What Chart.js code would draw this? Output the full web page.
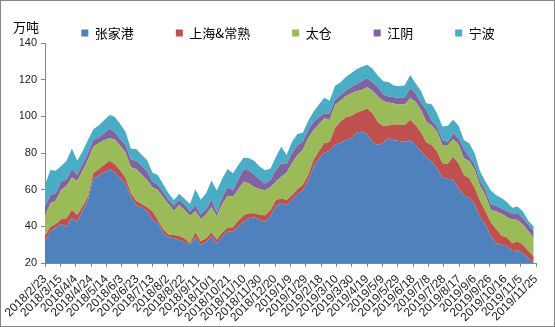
<!DOCTYPE html>
<html>
<head>
<meta charset="utf-8">
<script src="https://cdn.jsdelivr.net/npm/chart.js@4/dist/chart.umd.min.js"></script>
<style>
html, body { margin: 0; padding: 0; background: #fff; }
.chart_wrap { width: 555px; height: 327px; }
</style>
</head>
<body>
<div class="chart_wrap"><canvas id="chart_stock"></canvas></div>
<script>
// weekly stock, starting 2018/2/23 (x = days since start)
const firstDay = '2018/2/23';
const stepDays = 7;

const tickLabels = [
	'2018/2/23', '2018/3/15', '2018/4/4', '2018/4/24', '2018/5/14', '2018/6/3', '2018/6/23',
	'2018/7/13', '2018/8/2', '2018/8/22', '2018/9/11', '2018/10/1', '2018/10/21', '2018/11/10',
	'2018/11/30', '2018/12/20', '2019/1/9', '2019/1/29', '2019/2/18', '2019/3/10', '2019/3/30',
	'2019/4/19', '2019/5/9', '2019/5/29', '2019/6/18', '2019/7/8', '2019/7/28', '2019/8/17',
	'2019/9/6', '2019/9/26', '2019/10/16', '2019/11/5', '2019/11/25',
];

const seriesNames = ['张家港', '上海&常熟', '太仓', '江阴', '宁波'];

const zhangjiagang = [
	31.6, 37.1, 39.3, 41.3, 39.8, 44.4, 42.5, 48.5, 54.4, 66.2,
	67.6, 69.4, 71.1, 69.4, 66.3, 63.1, 56.0, 51.6, 50.2, 48.4,
	43.4, 42.0, 36.2, 34.0, 33.5, 32.5, 31.6, 29.8, 34.0, 30.0,
	31.5, 34.4, 30.6, 34.5, 37.0, 37.1, 39.8, 42.5, 44.4, 44.9,
	43.5, 42.5, 45.6, 51.1, 52.5, 51.6, 54.7, 57.6, 59.5, 64.9,
	72.5, 77.0, 80.0, 81.5, 84.4, 85.6, 87.0, 88.0, 91.0, 91.7,
	90.2, 85.9, 84.4, 85.7, 88.0, 87.0, 86.6, 86.2, 87.1, 84.4,
	81.1, 77.7, 75.5, 71.7, 66.6, 65.9, 65.5, 60.8, 56.8, 55.7,
	52.1, 45.1, 40.8, 34.8, 30.8, 29.9, 29.1, 26.6, 26.8, 25.3,
	22.6, 20.0,
];
const shanghaiChangshu = [
	3.1, 2.7, 2.0, 2.5, 4.6, 4.5, 3.7, 2.5, 1.8, 2.7,
	3.5, 4.0, 4.7, 4.6, 4.2, 3.4, 2.0, 2.4, 2.0, 2.0,
	4.8, 1.4, 2.2, 1.6, 1.8, 2.2, 1.8, 0.9, 2.8, 1.8,
	2.0, 2.2, 2.2, 2.2, 2.2, 2.4, 3.3, 3.6, 2.7, 2.2,
	2.7, 3.6, 3.3, 3.3, 2.7, 2.8, 2.4, 2.6, 3.0, 3.1,
	3.7, 4.0, 5.3, 4.5, 9.1, 11.4, 12.5, 12.2, 10.9, 11.3,
	13.9, 15.6, 12.4, 8.9, 7.0, 8.5, 8.9, 9.1, 11.0, 10.9,
	10.2, 8.0, 8.9, 9.1, 7.8, 8.3, 12.4, 13.6, 11.2, 10.5,
	9.0, 8.8, 7.6, 7.4, 7.8, 4.9, 4.8, 4.2, 4.9, 4.6,
	4.0, 3.5,
];
const taicang = [
	10.9, 12.7, 12.7, 16.0, 17.6, 17.8, 18.5, 19.3, 20.0, 14.5,
	14.2, 13.5, 12.2, 13.3, 13.5, 13.7, 14.2, 17.1, 16.0, 14.9,
	13.1, 16.4, 17.4, 16.4, 13.2, 16.9, 15.5, 14.9, 11.5, 12.0,
	12.8, 13.9, 12.5, 15.5, 17.5, 16.7, 17.1, 18.2, 16.3, 14.2,
	14.0, 13.6, 12.4, 10.0, 11.8, 14.9, 17.3, 18.7, 19.1, 20.0,
	16.3, 14.5, 13.6, 12.0, 12.7, 11.5, 11.5, 12.3, 11.8, 11.4,
	11.8, 12.5, 14.0, 13.6, 12.5, 11.3, 10.9, 11.3, 11.8, 12.7,
	12.2, 11.4, 10.6, 10.9, 10.0, 10.2, 9.6, 10.4, 9.1, 9.5,
	9.7, 8.3, 8.7, 6.8, 9.5, 12.0, 11.2, 12.9, 11.8, 10.9,
	10.9, 10.0,
];
const jiangyin = [
	5.1, 4.6, 4.0, 4.6, 3.6, 4.4, 3.3, 3.5, 3.6, 3.7,
	3.2, 3.8, 5.4, 4.0, 3.6, 4.0, 4.3, 4.7, 4.9, 4.7,
	3.1, 2.9, 2.9, 2.4, 2.8, 2.8, 2.9, 2.4, 3.3, 2.7,
	3.2, 4.0, 2.3, 3.5, 4.6, 3.6, 5.4, 6.7, 7.0, 6.7,
	5.1, 3.6, 4.0, 6.3, 7.3, 4.7, 5.4, 5.5, 4.6, 4.5,
	4.5, 4.0, 2.7, 3.5, 2.7, 3.0, 3.0, 3.5, 3.8, 4.9,
	4.9, 4.6, 4.9, 3.8, 3.3, 3.6, 3.8, 3.8, 5.4, 4.6,
	4.0, 6.4, 2.7, 2.7, 2.6, 1.8, 3.3, 3.3, 5.1, 2.3,
	3.1, 2.8, 2.8, 3.1, 3.0, 2.9, 3.3, 3.3, 3.6, 3.6,
	3.3, 4.0,
];
const ningbo = [
	11.8, 13.6, 12.3, 8.5, 10.0, 11.4, 7.8, 7.2, 7.3, 5.8,
	6.5, 7.1, 7.3, 8.5, 8.2, 7.4, 5.8, 6.4, 6.0, 6.2,
	4.9, 5.3, 4.4, 3.6, 3.1, 3.4, 3.3, 4.2, 8.6, 8.0,
	8.5, 10.5, 11.9, 10.3, 10.0, 9.1, 7.8, 6.5, 6.7, 7.6,
	7.2, 7.3, 6.3, 7.3, 9.1, 4.9, 6.4, 6.0, 4.9, 5.0,
	5.5, 7.0, 8.6, 7.0, 7.8, 7.0, 7.5, 7.5, 8.2, 7.8,
	7.4, 7.3, 6.5, 7.1, 7.8, 6.4, 6.2, 6.6, 7.3, 5.4,
	6.4, 3.6, 8.9, 7.3, 7.4, 8.6, 7.3, 6.9, 4.9, 7.3,
	6.0, 5.2, 4.5, 7.6, 5.9, 5.8, 4.9, 3.2, 3.7, 3.7,
	2.2, 2.4,
];

const colors = ['#4f81bd', '#c0504d', '#9bbb59', '#8064a2', '#4bacc6'];
const allSeries = [zhangjiagang, shanghaiChangshu, taicang, jiangyin, ningbo];

const toPoints = arr => arr.map((v, i) => ({ x: i * stepDays, y: v }));

const datasets = allSeries.map((arr, idx) => ({
	label: seriesNames[idx],
	data: toPoints(arr),
	backgroundColor: colors[idx],
	borderColor: colors[idx],
	borderWidth: 0,
	pointRadius: 0,
	tension: 0,
	fill: idx === 0 ? 'origin' : '-1',
}));

const axisColor = '#868686';

const extras = {
	id: 'extras',
	beforeInit(chart) {
		const fit = chart.legend.fit;
		chart.legend.fit = function () {
			fit.bind(chart.legend)();
			this.height = 58.5;
		};
	},
	afterLayout(chart) {
		// nudge legend right, like the original
		chart.legend.left += 10;
		chart.legend.right += 10;
	},
	afterDraw(chart) {
		const ctx = chart.ctx;
		ctx.save();
		ctx.fillStyle = '#000';
		ctx.font = "13px 'Noto Sans CJK SC'";
		ctx.textBaseline = 'middle';
		ctx.fillText('万吨', 13, 27);
		ctx.strokeStyle = axisColor;
		ctx.lineWidth = 1;
		ctx.strokeRect(0.5, 0.5, 554, 326);
		ctx.restore();
	},
};

const stock = document.getElementById('chart_stock');

const chartStock = new Chart(stock, {
	type: 'line',
	data: { datasets: datasets },
	plugins: [extras],
	options: {
		animation: false,
		maintainAspectRatio: false,
		layout: {
			padding: { top: -15.5, left: 20, right: 19, bottom: 0 },
		},
		plugins: {
			tooltip: { enabled: false },
			legend: {
				position: 'top',
				labels: {
					boxWidth: 7,
					boxHeight: 7,
					padding: 42,
					color: '#000',
					font: { family: "'Noto Sans CJK SC'", size: 13 },
				},
			},
		},
		scales: {
			x: {
				type: 'linear',
				min: 0,
				max: 640,
				grid: {
					drawOnChartArea: false,
					drawTicks: true,
					tickLength: 4,
					color: axisColor,
				},
				border: { display: true, color: axisColor },
				ticks: {
					autoSkip: false,
					maxRotation: 45,
					minRotation: 45,
					padding: 5,
					color: '#222',
					font: { family: "'Liberation Sans'", size: 12 },
					callback: (v) => tickLabels[Math.round(v / 20)],
				},
				afterBuildTicks: scale => {
					scale.ticks = tickLabels.map((t, i) => ({ value: i * 20 }));
				},
				afterFit: scale => {
					scale.height = 64;
					scale.paddingLeft = 0;
					scale.paddingRight = 0;
				},
			},
			y: {
				stacked: true,
				min: 20,
				max: 140,
				grid: {
					drawOnChartArea: false,
					drawTicks: true,
					tickLength: 4,
					color: axisColor,
				},
				border: { display: true, color: axisColor },
				ticks: {
					stepSize: 20,
					padding: 4,
					color: '#222',
					font: { family: "'Liberation Sans'", size: 11 },
				},
				afterFit: scale => {
					scale.width = 25;
				},
			},
		},
	},
});
</script>
</body>
</html>
